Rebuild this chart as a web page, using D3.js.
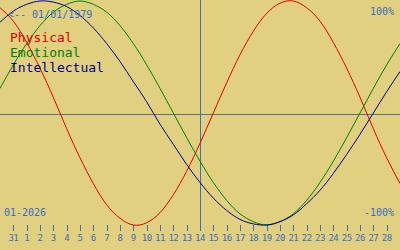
<!DOCTYPE html>
<html><head><meta charset="utf-8">
<script src="https://cdn.jsdelivr.net/npm/d3@7"></script>
<style>
html,body{margin:0;padding:0;background:#e0d080;}
svg{display:block;}
text{font-family:"DejaVu Sans Mono",monospace;}
</style></head>
<body>
<script>
// day index: 0 = 31 Dec 2025, 1 = 1 Jan 2026 ... ; series sampled from day -1 to 29
const days = d3.range(-1, 30);
const physical = [0.94,0.82,0.63,0.40,0.14,-0.14,-0.40,-0.63,-0.82,-0.94,-1.00,-0.98,-0.89,-0.73,-0.52,-0.27,0,0.27,0.52,0.73,0.89,0.98,1.00,0.94,0.82,0.63,0.40,0.14,-0.14,-0.40,-0.63];
const emotional = [0.22,0.43,0.62,0.78,0.90,0.97,1.00,0.97,0.90,0.78,0.62,0.43,0.22,0,-0.22,-0.43,-0.62,-0.78,-0.90,-0.97,-1.00,-0.97,-0.90,-0.78,-0.62,-0.43,-0.22,0,0.22,0.43,0.62];
const intellectual = [0.81,0.91,0.97,1.00,0.99,0.95,0.87,0.76,0.62,0.46,0.28,0.10,-0.10,-0.28,-0.46,-0.62,-0.76,-0.87,-0.95,-0.99,-1.00,-0.97,-0.91,-0.81,-0.69,-0.54,-0.37,-0.19,0,0.19,0.37];
const tickDays = d3.range(0, 29);
const tickLabels = ["31","1","2","3","4","5","6","7","8","9","10","11","12","13","14","15","16","17","18","19","20","21","22","23","24","25","26","27","28"];
const today = 14;
const birthText = "<-- 01/01/1979";
const monthText = "01-2026";
const seriesNames = ["Physical","Emotional","Intellectual"];
const seriesColors = ["#e00000","#008000","#000080"];

const W = 400, H = 250;
const svg = d3.select("body").append("svg").attr("width", W).attr("height", H);
svg.append("rect").attr("width", W).attr("height", H).attr("fill", "#e0d080");

const x = d3.scaleLinear().domain([-1, 29]).range([0, 400]);
const y = d3.scaleLinear().domain([-1, 1]).range([225, 1]);
const blue = "#3a6ec4";

// center line
svg.append("line").attr("x1", 0).attr("x2", W).attr("y1", 114.5).attr("y2", 114.5)
  .attr("stroke", "#5a6e8e").attr("stroke-width", 1);

// today line
svg.append("line").attr("x1", Math.round(x(today)) + 0.5).attr("x2", Math.round(x(today)) + 0.5)
  .attr("y1", 0).attr("y2", 231).attr("stroke", blue).attr("stroke-width", 1);

// ticks
svg.selectAll("line.tick").data(tickDays).enter().append("line")
  .attr("class", "tick")
  .attr("x1", d => Math.round(x(d)) + 0.5).attr("x2", d => Math.round(x(d)) + 0.5)
  .attr("y1", 225).attr("y2", 231).attr("stroke", blue);
svg.selectAll("text.tl").data(tickDays).enter().append("text")
  .attr("class", "tl")
  .attr("x", d => x(d)).attr("y", 241).attr("text-anchor", "middle")
  .attr("font-size", 9).attr("letter-spacing", -0.5).attr("fill", blue)
  .text((d, i) => tickLabels[i]);

// curves
const line = d3.line().x((d, i) => x(days[i])).y(d => y(d)).curve(d3.curveNatural);
[physical, emotional, intellectual].forEach((s, i) => {
  svg.append("path").attr("d", line(s)).attr("fill", "none")
    .attr("stroke", seriesColors[i]).attr("stroke-width", 1);
});

// texts
svg.append("text").attr("x", 8).attr("y", 18).attr("font-size", 10).attr("fill", blue).text(birthText);
svg.append("text").attr("x", 394).attr("y", 15).attr("font-size", 10).attr("fill", blue).attr("text-anchor", "end").text("100%");
svg.append("text").attr("x", 394).attr("y", 216).attr("font-size", 10).attr("fill", blue).attr("text-anchor", "end").text("-100%");
svg.append("text").attr("x", 4).attr("y", 216).attr("font-size", 10).attr("fill", blue).text(monthText);
seriesNames.forEach((n, i) => {
  svg.append("text").attr("x", 10).attr("y", 42 + i * 15).attr("font-size", 13)
    .attr("fill", seriesColors[i]).text(n);
});
</script>
</body></html>
